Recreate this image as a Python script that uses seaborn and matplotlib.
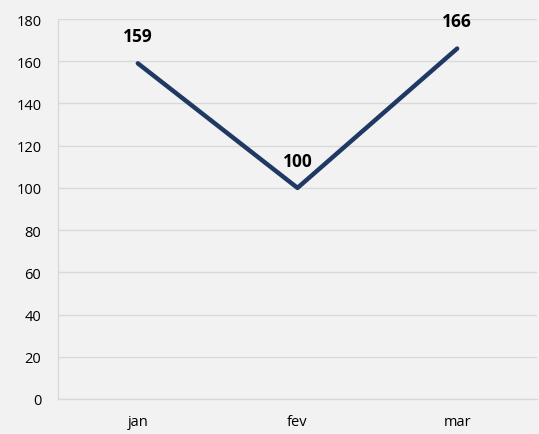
import matplotlib
matplotlib.use("Agg")
import matplotlib.pyplot as plt
import seaborn as sns
import pandas as pd

# Dados do gráfico
meses = ["jan", "fev", "mar"]
valores = [159, 100, 166]
y_ticks = [0, 20, 40, 60, 80, 100, 120, 140, 160, 180]

df = pd.DataFrame({"mes": meses, "valor": valores})

sns.set_style("white")
plt.rcParams["font.family"] = ["Open Sans", "DejaVu Sans"]

bg = "#F2F2F2"
grid = "#D9D9D9"
line_color = "#203864"

fig = plt.figure(figsize=(5.39, 4.35), dpi=100, facecolor=bg)
ax = fig.add_axes([58 / 539, 1 - 400 / 435, 479 / 539, 380 / 435])
ax.set_facecolor(bg)

sns.lineplot(data=df, x="mes", y="valor", ax=ax, color=line_color,
             linewidth=3.2, sort=False, solid_capstyle="round")

for i, v in enumerate(valores):
    ax.annotate(str(v), (i, v), textcoords="offset points", xytext=(0, 19.5),
                ha="center", va="center", fontsize=12.5, fontweight="bold",
                color="black")

ax.set_xlim(-0.5, 2.5)
ax.set_ylim(0, 180)
ax.set_yticks(y_ticks)
ax.grid(axis="y", color=grid, linewidth=1)
ax.set_axisbelow(True)
ax.set_xlabel("")
ax.set_ylabel("")
for side in ["top", "right"]:
    ax.spines[side].set_visible(False)
for side in ["left", "bottom"]:
    ax.spines[side].set_color(grid)
    ax.spines[side].set_linewidth(1)
ax.tick_params(axis="both", length=0, labelsize=10.5, colors="#000000")
ax.tick_params(axis="y", pad=12)
ax.tick_params(axis="x", pad=11)

fig.savefig("out.png", dpi=100, facecolor=bg)
